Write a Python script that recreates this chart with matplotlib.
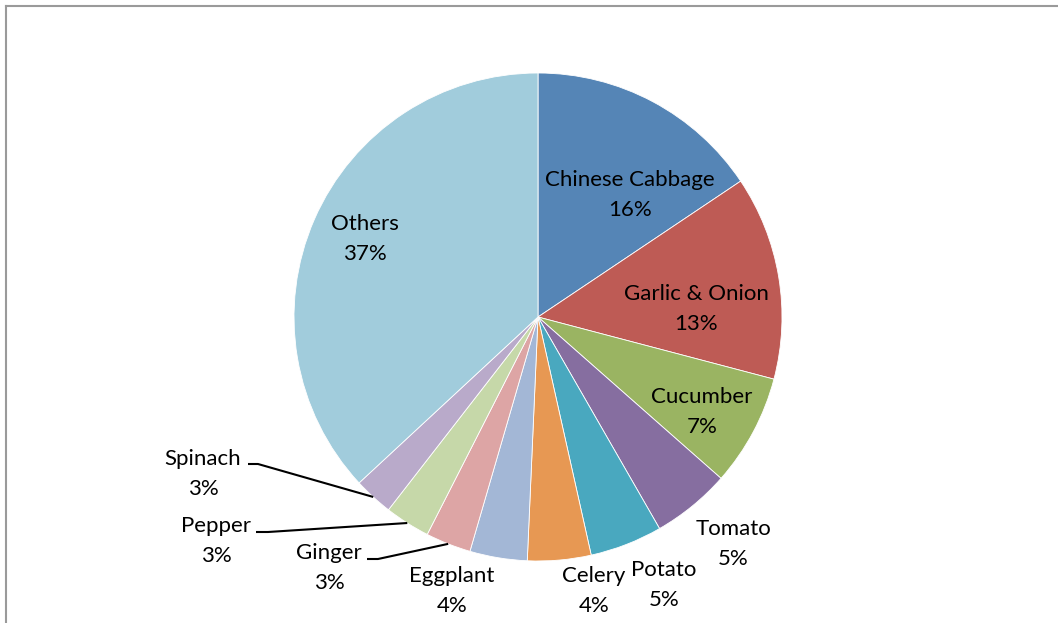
import matplotlib
matplotlib.use("Agg")
import matplotlib.pyplot as plt
import numpy as np

# ---- data ----
categories = ["Chinese Cabbage", "Garlic & Onion", "Cucumber", "Tomato", "Potato",
              "Celery", "Eggplant", "Ginger", "Pepper", "Spinach", "Others"]
shares = [15.6, 13.5, 7.4, 5.2, 4.8, 4.2, 3.8, 3.0, 3.0, 2.6, 36.9]
pct_labels = ["16%", "13%", "7%", "5%", "5%", "4%", "4%", "3%", "3%", "3%", "37%"]
colors = ["#5585B6", "#BE5B55", "#9AB462", "#866EA0", "#49A8BF", "#E79853",
          "#A3B7D6", "#DDA5A5", "#C6D8A9", "#B9AACA", "#A1CCDC"]

# ---- layout (pixels) ----
W, H = 1058, 623
CX, CY, R = 538, 317, 244
# label centers (pixel coords, y down)
label_pos = {
    "Chinese Cabbage": (630, 195),
    "Garlic & Onion": (696, 309),
    "Cucumber": (702, 412),
    "Tomato": (733, 544),
    "Potato": (664, 585),
    "Celery": (594, 591),
    "Eggplant": (452, 591),
    "Ginger": (329, 568),
    "Pepper": (216, 541),
    "Spinach": (203, 474),
    "Others": (365, 239),
}
# leader line start (pixel coords) for outside labels
leaders = {
    "Spinach": (248, 464, 258),
    "Pepper": (256, 532, 268),
    "Ginger": (367, 559, 378),
}

fig = plt.figure(figsize=(W / 100, H / 100), dpi=100)
ax = fig.add_axes([0, 0, 1, 1])
ax.set_xlim(0, W)
ax.set_ylim(0, H)
ax.set_aspect("equal")
ax.axis("off")

wedges, _ = ax.pie(shares, colors=colors, startangle=90, counterclock=False,
                   center=(CX, H - CY), radius=R,
                   wedgeprops=dict(edgecolor="white", linewidth=0.6))
ax.set_xlim(0, W)
ax.set_ylim(0, H)

font = ["Lato", "DejaVu Sans"]
for cat, pct, w in zip(categories, pct_labels, wedges):
    x, y = label_pos[cat]
    ax.text(x, H - y, f"{cat}\n{pct}", ha="center", va="center",
            fontsize=16, family=font, color="black", linespacing=1.68)
    if cat in leaders:
        sx, sy, ex = leaders[cat]
        mid = np.deg2rad((w.theta1 + w.theta2) / 2)
        px = CX + R * np.cos(mid)
        py = (H - CY) + R * np.sin(mid)
        ax.plot([sx, ex, px], [H - sy, H - sy, py], color="black", lw=1.5,
                solid_capstyle="butt")

# frame (top and left)
ax.plot([6, W], [H - 6, H - 6], color="#9a9a9a", lw=1.5)
ax.plot([6, 6], [H - 6, 0], color="#9a9a9a", lw=1.5)

fig.savefig("out.png", dpi=100)
